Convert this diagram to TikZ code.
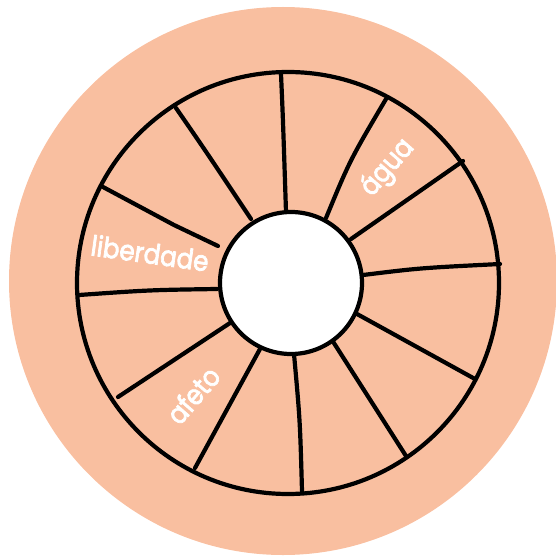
\documentclass[tikz,border=0pt]{standalone}
\usepackage{fontspec}
\newfontfamily\labelfont{Poppins}[BoldFont=Poppins,BoldFeatures={FakeBold=2.8}]
\definecolor{peach}{RGB}{249,191,160}
\begin{document}
\begin{tikzpicture}[x=1pt,y=-1pt,
  spoke/.style={draw=black,line width=4.2pt,line cap=round,line join=round},
  lbl/.style={text=white,font=\labelfont\bfseries\fontsize{28}{28}\selectfont,inner sep=0pt}]
\useasboundingbox (0,0) rectangle (555,559);
% background disc
\fill[peach] (283,281) circle[radius=274];
% wheel
\node[circle,draw=black,line width=4.2pt,fill=peach,minimum size=422pt,inner sep=0pt] (wheel) at (288,283) {};
% spokes
\coordinate (o1) at (281,74);   \coordinate (i1) at (286,212);
\coordinate (o2) at (386,99);   \coordinate (i2) at (326,218);
\coordinate (o3) at (463,161);  \coordinate (i3) at (351,239);
\coordinate (o4) at (500,264);  \coordinate (i4) at (363,275);
\coordinate (o5) at (475,379);  \coordinate (i5) at (357,314);
\coordinate (o6) at (406,456);  \coordinate (i6) at (332,340);
\coordinate (o7) at (302,491);  \coordinate (i7) at (294,354);
\coordinate (o8) at (195,468);  \coordinate (i8) at (260,349);
\coordinate (o9) at (118,397);  \coordinate (i9) at (230,323);
\coordinate (o10) at (79,295);  \coordinate (i10) at (217,289);
\coordinate (o11) at (103,187); \coordinate (b11) at (174,225); \coordinate (i11) at (218,246);
\coordinate (o12) at (176,108); \coordinate (i12) at (251,219);
\draw[spoke] (o1) .. controls (283,120) .. (i1);
\draw[spoke] (o2) .. controls (350,160) .. (i2);
\draw[spoke] (o3) -- (i3);
\draw[spoke] (o4) .. controls (420,268) .. (i4);
\draw[spoke] (o5) -- (i5);
\draw[spoke] (o6) -- (i6);
\draw[spoke] (o7) .. controls (300,420) .. (i7);
\draw[spoke] (o8) -- (i8);
\draw[spoke] (o9) -- (i9);
\draw[spoke] (o10) .. controls (150,290) .. (i10);
\draw[spoke] (o11) -- (b11) -- (i11);
\draw[spoke] (o12) .. controls (205,150) .. (i12);
% hub
\node[circle,draw=black,line width=4.2pt,fill=white,minimum size=142pt,inner sep=0pt] (hub) at (291,283) {};
% labels
\node[lbl,rotate=49,xscale=0.88] (agua) at (388,168) {água};
\node[lbl,rotate=-8,xscale=0.88] (liberdade) at (150,253) {liberdade};
\node[lbl,rotate=49,xscale=0.88] (afeto) at (193,395) {afeto};
\end{tikzpicture}
\end{document}
